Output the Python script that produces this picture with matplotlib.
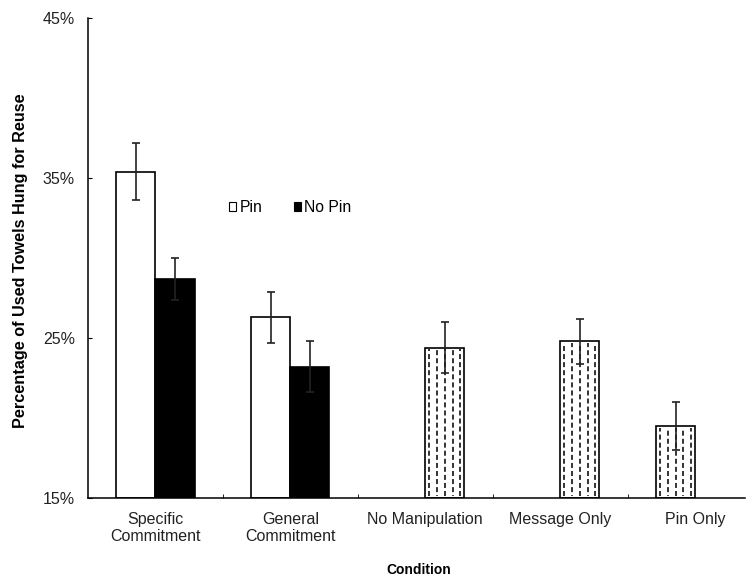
import matplotlib.pyplot as plt
from matplotlib.patches import Patch

plt.rcParams['font.family'] = ['Liberation Sans', 'DejaVu Sans']
plt.rcParams['lines.scale_dashes'] = False

# condition labels on the x axis
conditions = ['Specific\nCommitment', 'General\nCommitment', 'No Manipulation', 'Message Only', 'Pin Only']

# paired conditions (pin / no pin)
pin_vals = [35.4, 26.3]
pin_err = [1.8, 1.6]
nopin_vals = [28.7, 23.2]
nopin_err = [1.3, 1.6]

# single-bar conditions
single_vals = [24.4, 24.8, 19.5]
single_err = [1.6, 1.4, 1.5]
single_slot = [1, 1, 0]   # 0 = pin slot, 1 = no pin slot

offs = [-0.145, 0.145]
w = 0.29

fig = plt.figure(figsize=(7.46, 5.77), dpi=100)
ax = fig.add_axes([88/746, 79/577, (745-88)/746, 480/577])

ek = dict(fmt='none', ecolor='#222222', elinewidth=1.2, capsize=3, capthick=1.2, zorder=3)

# paired bars
for i in range(len(pin_vals)):
    ax.bar(i + offs[0], pin_vals[i] - 15, w, bottom=15, color='white', edgecolor='black',
           linewidth=1.2, zorder=2)
    ax.errorbar(i + offs[0], pin_vals[i], yerr=pin_err[i], **ek)
    ax.bar(i + offs[1], nopin_vals[i] - 15, w, bottom=15, color='black', edgecolor='black',
           linewidth=1.2, zorder=2)
    ax.errorbar(i + offs[1], nopin_vals[i], yerr=nopin_err[i], **ek)

# single hatched bars
for j, v in enumerate(single_vals):
    x = 2 + j + offs[single_slot[j]]
    ax.bar(x, v - 15, w, bottom=15, color='white', edgecolor='black', linewidth=1.2, zorder=2)
    # dashed vertical hatch
    for k in range(5):
        xx = x - w/2 + w*(k + 0.5)/5
        ax.vlines(xx, 15.1, v - 0.1, colors='#333333', linewidth=1.4,
                  linestyles=[(k % 2 * 3, (3.6, 2.2))], zorder=2.5)
    ax.errorbar(x, v, yerr=single_err[j], **ek)

ax.set_ylim(15, 45)
ax.set_xlim(-0.5, 4.37)
ax.set_yticks([15, 25, 35, 45])
ax.set_yticklabels(['15%', '25%', '35%', '45%'], fontsize=11.5, color='#222222')
ax.set_xticks(range(5))
ax.set_xticklabels(conditions, fontsize=11.5, color='#222222', linespacing=1.15)
ax.tick_params(axis='x', length=0, pad=10)
ax.set_xticks([0.5, 1.5, 2.5, 3.5], minor=True)
ax.tick_params(axis='x', which='minor', direction='in', length=3)
ax.tick_params(axis='y', direction='in', length=3, pad=9.5)
for s in ['top', 'right']:
    ax.spines[s].set_visible(False)
ax.spines['left'].set_linewidth(1.1)
ax.spines['bottom'].set_linewidth(1.1)

fig.text(419/746, 1 - 570/577, 'Condition', fontsize=10, fontweight='bold',
         ha='center', va='center')
fig.text(21/746, 1 - 261/577, 'Percentage of Used Towels Hung for Reuse', fontsize=11.7,
         fontweight='bold', rotation=90, ha='center', va='center')

handles = [Patch(facecolor='white', edgecolor='black', linewidth=0.8),
           Patch(facecolor='black', edgecolor='black', linewidth=0.8)]
ax.legend(handles, ['Pin', 'No Pin'], ncol=2, frameon=False, fontsize=11.3,
          handlelength=0.45, handleheight=0.45, handletextpad=0.2, columnspacing=2.0,
          loc='center left', bbox_to_anchor=(0.203, 0.605), borderpad=0)

fig.savefig('out.png', dpi=100)
